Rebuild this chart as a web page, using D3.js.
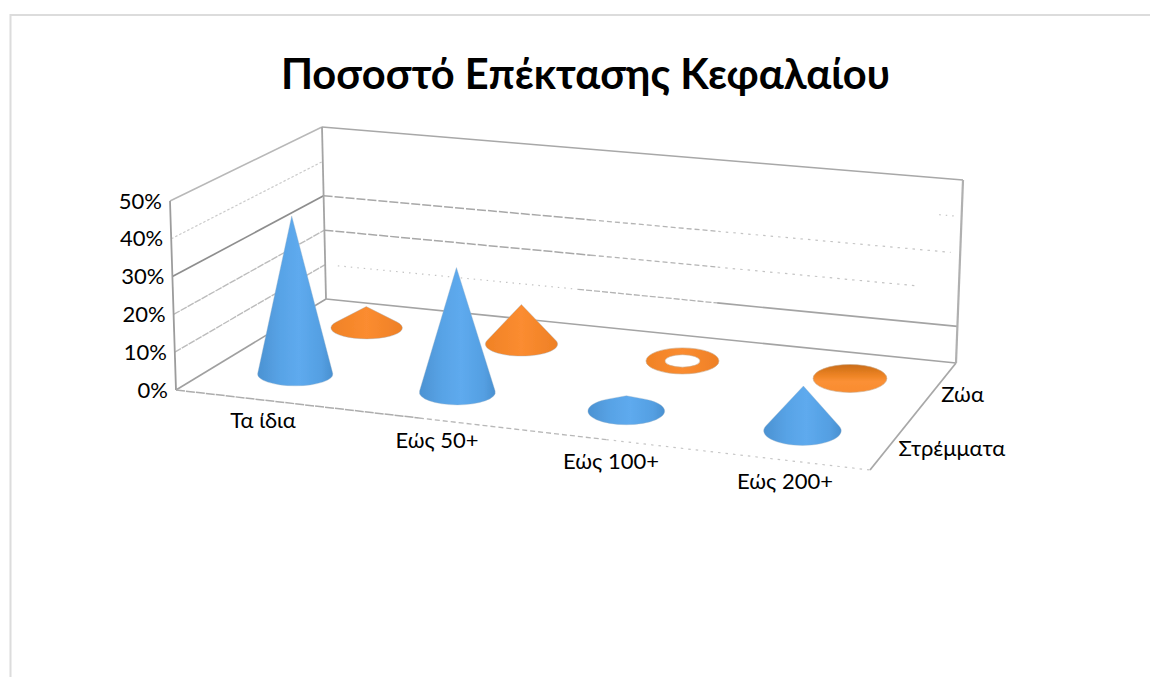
<!DOCTYPE html>
<html><head><meta charset="utf-8">
<script src="https://cdn.jsdelivr.net/npm/d3@7"></script>
<style>html,body{margin:0;background:#fff}svg{display:block}text{font-family:Lato,"Open Sans",sans-serif;fill:#000}</style>
</head><body><svg id="c" width="1150" height="677"></svg>
<script>
const title = "Ποσοστό Επέκτασης Κεφαλαίου";
const categories = ["Τα ίδια","Εώς 50+","Εώς 100+","Εώς 200+"];
const seriesNames = ["Στρέμματα","Ζώα"];
const stremmata = [42.5,33,4,11.5];
const zoa = [6,11,0,1];
const valueTicks = [0,10,20,30,40,50];

const svg = d3.select("#c");
const defs = svg.append("defs");
defs.append("filter").attr("id","soft").append("feGaussianBlur").attr("stdDeviation",0.5);
function grad(id,stops){
  const g = defs.append("linearGradient").attr("id",id);
  stops.forEach(s=>g.append("stop").attr("offset",s[0]).attr("stop-color",s[1]));
}
grad("blue",[[0,"#4b92d2"],[.3,"#58a3e6"],[.55,"#5eaaee"],[.85,"#549fe2"],[1,"#4a90d0"]]);
grad("orange",[[0,"#f08226"],[.5,"#fb8c30"],[1,"#ee8026"]]);
const flat = defs.append("linearGradient").attr("id","orangeFlat").attr("x1",0).attr("x2",0).attr("y1",0).attr("y2",1);
[[0,"#c96c18"],[.35,"#ea8122"],[.6,"#fb9035"],[1,"#f98c30"]].forEach(s=>flat.append("stop").attr("offset",s[0]).attr("stop-color",s[1]));

// frame
svg.append("path").attr("d","M10.5,677V15H1150").attr("fill","none").attr("stroke","#dcdcdc").attr("stroke-width",2);

// floor quad
const FL=[176,390],BL=[326,299],BR=[956,363],FR=[870,470];
// vertical extents of a 0..50 post at each floor corner
const vFL=[-6,-189],vBL=[-4,-172],vBR=[7,-183],vFR=[5,-200];
// homography unit-square -> floor quad
const H=(()=>{
  const [x0,y0]=FL,[x1,y1]=FR,[x2,y2]=BR,[x3,y3]=BL;
  const dx1=x1-x2,dx2=x3-x2,sx=x0-x1+x2-x3,dy1=y1-y2,dy2=y3-y2,sy=y0-y1+y2-y3;
  const d=dx1*dy2-dx2*dy1,g=(sx*dy2-dx2*sy)/d,h=(dx1*sy-sx*dy1)/d;
  return {a:x1-x0+g*x1,b:x3-x0+h*x3,c:x0,d:y1-y0+g*y1,e:y3-y0+h*y3,f:y0,g,h};
})();
function floor(u,v){const w=H.g*u+H.h*v+1;return [(H.a*u+H.b*v+H.c)/w,(H.d*u+H.e*v+H.f)/w];}

const xBand = d3.scaleBand().domain(categories).range([0,1]);
const zBand = d3.scaleBand().domain(seriesNames).range([0,1]);
const yVal = d3.scaleLinear().domain([0,50]).range([0,1]);

function project(u,v,val){
  const p=floor(u,v),t=yVal(val);
  const mix=i=>(vFL[i]*(1-u)+vFR[i]*u)*(1-v)+(vBL[i]*(1-u)+vBR[i]*u)*v;
  return [p[0]+mix(0)*t,p[1]+mix(1)*t];
}
const line=d3.line();
const walls=svg.append("g").attr("fill","none").attr("filter","url(#soft)");
function seg(a,b,stroke,w,dash){
  walls.append("path").attr("d",line([a,b])).attr("stroke",stroke).attr("stroke-width",w).attr("stroke-dasharray",dash||null);
}
const lerp=(a,b,t)=>[a[0]+(b[0]-a[0])*t,a[1]+(b[1]-a[1])*t];

// back wall gridlines
const backStyle={
 50:[[0,1,"#a8a8a8",1.6]],
 40:[[.965,.995,"#c4c4c4",1.2,"1.5 5"]],
 30:[[0,.42,"#a8a8a8",1.5,"9 2"],[.42,.62,"#b4b4b4",1.3,"5 3"],[.62,.985,"#c4c4c4",1.2,"2.5 5"]],
 20:[[0,.42,"#a8a8a8",1.5,"9 2"],[.42,.62,"#b4b4b4",1.3,"5 3"],[.62,.93,"#c4c4c4",1.2,"2.5 5"]],
 10:[[.02,.4,"#c4c4c4",1.2,"1.5 5"],[.4,.62,"#b4b4b4",1.3,"6 2"],[.62,1,"#a4a4a4",1.6]],
 0:[[0,1,"#a4a4a4",1.6]]
};
valueTicks.forEach(t=>{
  const a=project(0,1,t),b=project(1,1,t);
  backStyle[t].forEach(s=>seg(lerp(a,b,s[0]),lerp(a,b,s[1]),s[2],s[3],s[4]));
});
// left wall gridlines
const leftStyle={50:["#b8b8b8",1.5],40:["#cacaca",1.2,"2.5 2"],30:["#8e8e8e",1.7],20:["#bcbcbc",1.4,"7 1"],10:["#bcbcbc",1.4,"7 1"],0:["#a0a0a0",1.6]};
valueTicks.forEach(t=>{const s=leftStyle[t];seg(project(0,0,t),project(0,1,t),s[0],s[1],s[2]);});
// posts
seg(project(0,0,0),project(0,0,50),"#9c9c9c",1.8);
seg(project(0,1,0),project(0,1,50),"#a4a4a4",1.8);
seg(project(1,1,0),project(1,1,50),"#b0b0b0",2.2);
// floor edges
seg(project(1,0,0),project(1,1,0),"#a8a8a8",1.8);
const f0=project(0,0,0),f1=project(1,0,0);
seg(f0,lerp(f0,f1,.35),"#adadad",1.5,"9 1");
seg(lerp(f0,f1,.35),lerp(f0,f1,.62),"#b8b8b8",1.3,"5 3");
seg(lerp(f0,f1,.62),f1,"#c6c6c6",1.2,"2.5 5");

// cones
const marks=svg.append("g").attr("filter","url(#soft)");
const rxF=d3.scaleLinear().domain([0,1]).range([36.5,38]);
const ryRatio=d3.scaleLinear().domain([0,1]).range([.3,.39]);
function cone(cat,ser,val,fill){
  const u=xBand(cat)+xBand.bandwidth()/2, v=zBand(ser)+zBand.bandwidth()/2;
  const [cx,cy]=project(u,v,0), tip=project(u,v,val);
  const rx=rxF(u)*(1-.05*v*2+.05), ry=rx*ryRatio(u);
  if(val===0){
    marks.append("path").attr("fill-rule","evenodd").attr("fill",`url(#${fill})`).attr("stroke","#c9a98a").attr("stroke-width",.6)
      .attr("d",`M${cx-rx},${cy}a${rx},${ry} 0 1,0 ${2*rx},0a${rx},${ry} 0 1,0 ${-2*rx},0Z`+
                `M${cx-rx*.48},${cy}a${rx*.48},${ry*.48} 0 1,0 ${rx*.96},0a${rx*.48},${ry*.48} 0 1,0 ${-rx*.96},0Z`);
    return;
  }
  if(val<=1){
    marks.append("ellipse").attr("cx",cx).attr("cy",cy).attr("rx",rx).attr("ry",ry).attr("fill","url(#orangeFlat)").attr("stroke","#c9a98a").attr("stroke-width",.6);
    return;
  }
  // tangent point of the silhouette on the base ellipse
  const h=cy-tip[1], k=Math.min(.97,ry/h), ty=cy-ry*k, tx=rx*Math.sqrt(1-k*k);
  marks.append("path").attr("fill",`url(#${fill})`).attr("stroke","#9db4c8").attr("stroke-opacity",.6).attr("stroke-width",.6)
    .attr("d",`M${tip[0]},${tip[1]}L${cx+tx},${ty}A${rx},${ry} 0 1,1 ${cx-tx},${ty}Z`);
}
zoa.forEach((d,i)=>cone(categories[i],seriesNames[1],d,"orange"));
stremmata.forEach((d,i)=>cone(categories[i],seriesNames[0],d,"blue"));

// text
svg.append("text").attr("x",585.5).attr("y",88.5).attr("text-anchor","middle").attr("font-weight",700).attr("font-size",41.6).text(title);
svg.append("g").selectAll("text").data(valueTicks).join("text")
  .attr("x",d=>project(0,0,d)[0]-8).attr("y",d=>project(0,0,d)[1]+7.5)
  .attr("text-anchor","end").attr("font-size",22).text(d=>d+"%");
const catX=d3.scalePoint().domain(categories).range([263,785]);
const catY=d3.scalePoint().domain(categories).range([428,489]);
svg.append("g").selectAll("text").data(categories).join("text")
  .attr("x",d=>catX(d)).attr("y",d=>catY(d))
  .attr("text-anchor","middle").attr("font-size",22).text(d=>d);
svg.append("g").selectAll("text").data(seriesNames).join("text")
  .attr("x",d=>floor(1,zBand(d)+zBand.bandwidth()/2)[0]+5)
  .attr("y",d=>floor(1,zBand(d)+zBand.bandwidth()/2)[1]+15)
  .attr("font-size",22).text(d=>d);
</script></body></html>
